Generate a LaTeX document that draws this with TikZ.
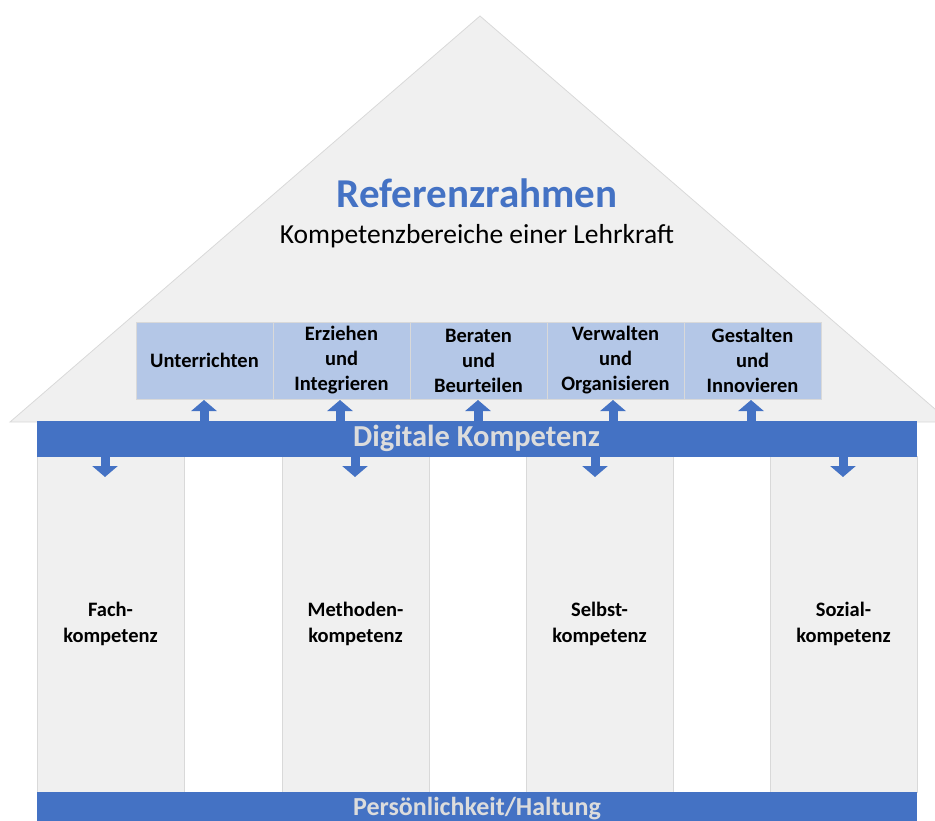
\documentclass[tikz,border=0pt]{standalone}
\usepackage{fontspec}
\setmainfont{Carlito}
\usetikzlibrary{arrows.meta,calc}
\definecolor{mblue}{HTML}{4472C4}
\definecolor{lblue}{HTML}{B4C7E7}
\definecolor{lgray}{HTML}{F0F0F0}
\definecolor{bgray}{HTML}{D9D9D9}
\definecolor{bartext}{HTML}{DCDCDC}
\tikzset{
  roofbox/.style={draw=bgray, line width=0.8pt, fill=lblue, minimum width=137pt, minimum height=77pt, inner sep=0pt, align=center, font=\fontsize{20.5}{25}\selectfont\bfseries},
  pillar/.style={draw=bgray, line width=0.8pt, fill=lgray, minimum width=147pt, minimum height=336pt, inner sep=0pt, align=center, font=\fontsize{20.5}{26}\selectfont\bfseries},
  bar/.style={fill=mblue, inner sep=0pt, text=bartext, font=\fontsize{30.5}{32}\selectfont\bfseries},
  conn/.style={draw=mblue, line width=9pt, -{Triangle[width=25pt,length=11pt]}}
}
\begin{document}
\begin{tikzpicture}[x=1pt,y=-1pt]
\useasboundingbox (0,0) rectangle (935,821);
\clip (0,0) rectangle (935,821);
% roof
\fill[lgray, draw=bgray, line width=0.8pt] (480,16) -- (950,422) -- (10,422) -- cycle;
\node[text=mblue, font=\fontsize{41}{44}\selectfont\bfseries] (title) at (477,193) {Referenzrahmen};
\node[font=\fontsize{27.5}{30}\selectfont] (sub) at (477,236) {Kompetenzbereiche einer Lehrkraft};
% roof boxes
\node[roofbox] (b1) at (204.5,360.5) {Unterrichten};
\node[roofbox] (b2) at (341.5,360.5) {Erziehen\\und\\Integrieren};
\node[roofbox] (b3) at (478.5,360.5) {Beraten\\und\\Beurteilen};
\node[roofbox] (b4) at (615.5,360.5) {Verwalten\\und\\Organisieren};
\node[roofbox] (b5) at (752.5,360.5) {Gestalten\\und\\Innovieren};
% pillars
\node[pillar] (p1) at (110.5,624) {Fach-\\kompetenz};
\node[pillar] (p2) at (355.5,624) {Methoden-\\kompetenz};
\node[pillar] (p3) at (599.5,624) {Selbst-\\kompetenz};
\node[pillar] (p4) at (843.5,624) {Sozial-\\kompetenz};
% bars
\node[bar, minimum width=880pt, minimum height=36pt] (dk) at (476.5,438.5) {Digitale Kompetenz};
\node[bar, minimum width=880pt, minimum height=40pt, anchor=north] (ph) at (476.5,792) {};
\node[text=bartext, font=\fontsize{26}{28}\selectfont\bfseries, anchor=base, inner sep=0pt] (phl) at (477,815) {Persönlichkeit/Haltung};
% up arrows
\foreach \b/\x in {b1/204,b2/340,b3/478,b4/613,b5/751}{
  \draw[conn] (\x,421) coordinate (s\b) -- (\x,400) coordinate (e\b);
}
% down arrows
\foreach \p/\x in {p1/105,p2/355,p3/595,p4/843}{
  \draw[conn] (\x,456) coordinate (s\p) -- (\x,477) coordinate (e\p);
}
\end{tikzpicture}
\end{document}
